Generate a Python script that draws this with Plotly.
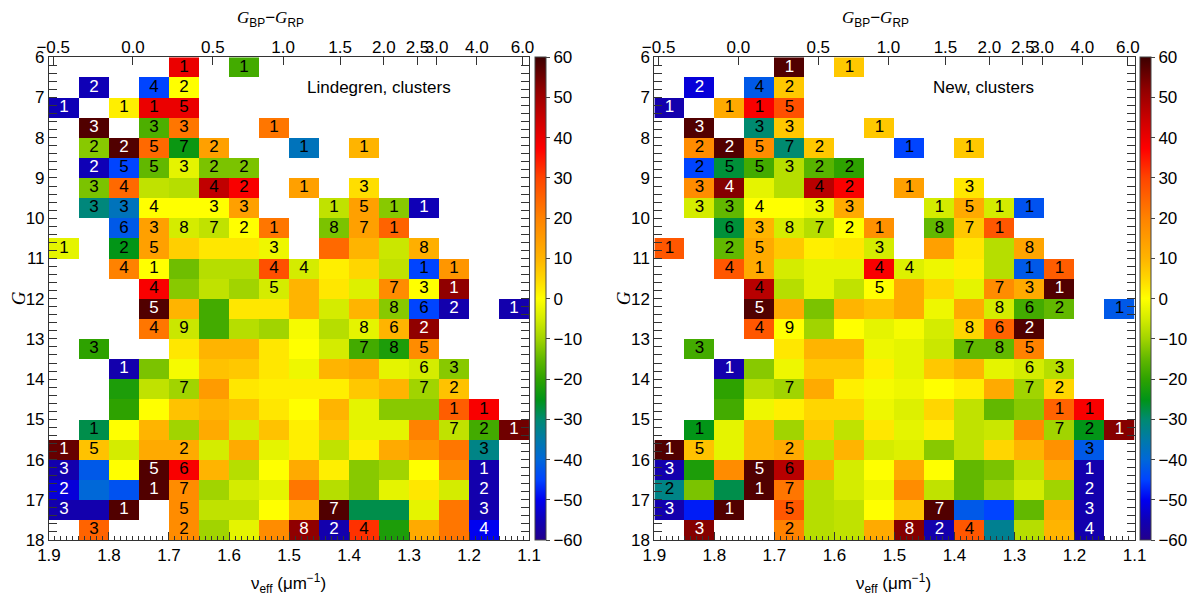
import plotly.graph_objects as go

# ---------------- data ----------------
# bin centres: nu_eff (um^-1), 16 columns from 1.875 down to 1.125; G magnitude, 24 rows 6.25 .. 17.75
nu_centers = [1.875, 1.825, 1.775, 1.725, 1.675, 1.625, 1.575, 1.525,
              1.475, 1.425, 1.375, 1.325, 1.275, 1.225, 1.175, 1.125]
g_centers = [6.25, 6.75, 7.25, 7.75, 8.25, 8.75, 9.25, 9.75, 10.25, 10.75, 11.25, 11.75,
             12.25, 12.75, 13.25, 13.75, 14.25, 14.75, 15.25, 15.75, 16.25, 16.75, 17.25, 17.75]

_ = None
# mean parallax offsets (colour-coded), Lindegren et al. correction, clusters
lind_values = [
    [_, _, _, _, 40, _, -18, _, _, _, _, _, _, _, _, _],
    [_, -55, _, -45, 0, _, _, _, _, _, _, _, _, _, _, _],
    [-55, _, 2, 40, 40, _, _, _, _, _, _, _, _, _, _, _],
    [_, 58, _, -17, 22, _, _, 22, _, _, _, _, _, _, _, _],
    [_, -12, 58, 24, -24, 14, _, _, -37, _, 10, _, _, _, _, _],
    [_, -55, -45, -15, -3, -13, -13, _, _, _, _, _, _, _, _, _],
    [_, -13, 24, -7, -8, 46, 38, _, 14, _, 4, _, _, _, _, _],
    [_, -31, -37, 0, 0, 0, 14, _, _, -7, 14, -12, -55, _, _, _],
    [_, _, -42, 14, -5, -7, 0, 22, _, -13, 14, 25, _, _, _, _],
    [-3, _, -25, 14, 6, 3, 3, -2, _, 24, 10, -6, 11, _, _, _],
    [_, _, 20, 0, -14, -8, -8, 28, -5, 2, 5, -7, -45, 16, _, _],
    [_, _, _, 38, -12, -7, -10, -5, 10, 3, -4, 18, 0, 52, _, _],
    [_, _, _, 58, 10, -18, 3, 3, 10, -5, 10, -12, -45, -56, _, -56],
    [_, _, _, 22, -6, -18, -8, -10, -1, -8, -3, 10, 52, _, _, _],
    [_, -20, _, _, 3, 10, 10, 3, 0, -5, -18, -22, 18, _, _, _],
    [_, _, -56, -13, -1, 8, 7, 3, -2, 10, 12, -3, -5, -12, _, _],
    [_, _, -22, -7, -10, 15, 3, 2, 2, 2, 7, 10, -10, 8, _, _],
    [_, _, -20, 0, 8, 10, 8, 3, 0, 10, -3, -12, -12, 26, 38, _],
    [_, -28, 0, 10, -10, 12, -5, 8, 2, 8, -3, -3, 20, -7, -18, 55],
    [56, 8, -5, 12, 12, -5, 12, -3, 2, -7, 2, 12, 16, 22, -32, _],
    [-56, -42, 0, 58, 38, 10, -8, 0, 12, 2, -12, -10, 0, 18, -56, _],
    [-52, -40, -43, 58, 18, -10, -5, -3, 22, -8, -12, -3, 3, -5, -56, _],
    [-56, -56, 58, _, 18, -7, -7, 0, 10, 58, -28, -28, -3, 22, -56, _],
    [_, 25, _, _, 18, -10, -3, 18, 52, -56, 32, -22, 12, 22, -50, _],
]

# mean parallax offsets, new correction, clusters
new_values = [
    [_, _, _, _, 58, _, 7, _, _, _, _, _, _, _, _, _],
    [_, -52, _, -42, 7, _, _, _, _, _, _, _, _, _, _, _],
    [-56, _, 12, 38, 28, _, _, _, _, _, _, _, _, _, _, _],
    [_, 58, _, -30, 7, _, _, 7, _, _, _, _, _, _, _, _],
    [_, 18, 58, 18, -30, 7, _, _, -45, _, 7, _, _, _, _, _],
    [_, -45, -27, -18, -8, -16, -20, _, _, _, _, _, _, _, _, _],
    [_, 18, 53, -3, -8, 47, 38, _, 14, _, 3, _, _, _, _, _],
    [_, -5, -15, 0, 0, -2, 12, _, _, -5, 12, -5, -43, _, _, _],
    [_, _, -27, 10, -5, -8, 0, 17, _, -15, 7, 27, _, _, _, _],
    [27, _, -15, 12, 7, 2, 3, -5, _, 14, 3, -8, 13, _, _, _],
    [_, _, 27, 12, -5, -3, -3, 38, -4, -2, 2, -8, -42, 26, _, _],
    [_, _, _, 47, -8, -3, -7, 0, 12, 5, -3, 18, 12, 58, _, _],
    [_, _, _, 58, 12, -13, 10, 8, 12, -2, 12, -5, -18, -15, _, -42],
    [_, _, _, 27, 0, -10, 0, -3, -1, -5, 5, 25, 58, _, _, _],
    [_, -18, _, _, 3, 10, 10, -2, -3, -6, -15, -15, 20, _, _, _],
    [_, _, -56, -12, -2, 7, 7, 2, -3, 7, 10, -3, -5, -8, _, _],
    [_, _, -20, -8, -10, 12, 2, -1, -2, 0, 2, 12, -10, 5, _, _],
    [_, _, -18, -2, 2, 5, 5, -2, -4, 5, -7, -15, -12, 25, 38, _],
    [_, -25, -3, 10, -10, 7, -7, 3, -3, 2, -7, -6, 18, -10, -25, 53],
    [58, 8, -3, 10, 12, -7, 10, -5, -4, -12, -7, 5, 10, 17, -42, _],
    [-56, -22, 18, 58, 47, 12, -5, 0, 12, 0, -15, -13, -7, 12, -56, _],
    [-32, -13, -28, 58, 22, -8, -5, -2, 18, -7, -15, -10, -5, -10, -56, _],
    [-56, -48, 58, _, 27, -8, -7, 0, 8, 58, -42, -45, -15, 12, -56, _],
    [_, 53, _, _, 20, -8, -7, 12, 53, -56, 27, -33, -8, 10, -56, _],
]

# number of clusters in each cell (same in both panels)
cluster_counts = [
    [_, _, _, _, 1, _, 1, _, _, _, _, _, _, _, _, _],
    [_, 2, _, 4, 2, _, _, _, _, _, _, _, _, _, _, _],
    [1, _, 1, 1, 5, _, _, _, _, _, _, _, _, _, _, _],
    [_, 3, _, 3, 3, _, _, 1, _, _, _, _, _, _, _, _],
    [_, 2, 2, 5, 7, 2, _, _, 1, _, 1, _, _, _, _, _],
    [_, 2, 5, 5, 3, 2, 2, _, _, _, _, _, _, _, _, _],
    [_, 3, 4, _, _, 4, 2, _, 1, _, 3, _, _, _, _, _],
    [_, 3, 3, 4, _, 3, 3, _, _, 1, 5, 1, 1, _, _, _],
    [_, _, 6, 3, 8, 7, 2, 1, _, 8, 7, 1, _, _, _, _],
    [1, _, 2, 5, _, _, _, 3, _, _, _, _, 8, _, _, _],
    [_, _, 4, 1, _, _, _, 4, 4, _, _, _, 1, 1, _, _],
    [_, _, _, 4, _, _, _, 5, _, _, _, 7, 3, 1, _, _],
    [_, _, _, 5, _, _, _, _, _, _, _, 8, 6, 2, _, 1],
    [_, _, _, 4, 9, _, _, _, _, _, 8, 6, 2, _, _, _],
    [_, 3, _, _, _, _, _, _, _, _, 7, 8, 5, _, _, _],
    [_, _, 1, _, _, _, _, _, _, _, _, _, 6, 3, _, _],
    [_, _, _, _, 7, _, _, _, _, _, _, _, 7, 2, _, _],
    [_, _, _, _, _, _, _, _, _, _, _, _, _, 1, 1, _],
    [_, 1, _, _, _, _, _, _, _, _, _, _, _, 7, 2, 1],
    [1, 5, _, _, 2, _, _, _, _, _, _, _, _, _, 3, _],
    [3, _, _, 5, 6, _, _, _, _, _, _, _, _, _, 1, _],
    [2, _, _, 1, 7, _, _, _, _, _, _, _, _, _, 2, _],
    [3, _, 1, _, 5, _, _, _, _, 7, _, _, _, _, 3, _],
    [_, 3, _, _, 2, _, _, _, 8, 2, 4, _, _, _, 4, _],
]

bottom_tick_labels = ["1.9", "1.8", "1.7", "1.6", "1.5", "1.4", "1.3", "1.2", "1.1"]
bottom_tick_values = [1.9, 1.8, 1.7, 1.6, 1.5, 1.4, 1.3, 1.2, 1.1]
color_tick_labels = ["\u22120.5", "0.0", "0.5", "1.0", "1.5", "2.0", "2.5", "3.0", "4.0", "6.0"]
color_tick_nu = [1.893, 1.760, 1.627, 1.510, 1.415, 1.342, 1.286, 1.254, 1.187, 1.111]
g_tick_values = list(range(6, 19))

panel_labels = ["Lindegren, clusters", "New, clusters"]

# ---------------- style / geometry ----------------
OFF = 8                                   # page body margin of the browser
W, H = 1200 - OFF, 602 - OFF
ML, MR, MT, MB = 36, 55, 40, 50           # fixed margins (px)
PW, PH = W - ML - MR, H - MT - MB
FONT = "Liberation Sans"


def fx(px):
    # screen pixel (reference image) -> paper fraction
    return (px - OFF - ML) / PW


def fy(py):
    return 1 - (py - OFF - MT) / PH


colorscale = [
    [0.000, "#23008c"], [0.040, "#1000b4"], [0.083, "#0000f0"], [0.125, "#0044ff"],
    [0.167, "#0068d8"], [0.208, "#007aa8"], [0.250, "#008a70"], [0.290, "#009418"],
    [0.333, "#2ea200"], [0.375, "#62b800"], [0.417, "#a2d400"], [0.458, "#d4ec00"],
    [0.500, "#ffff00"], [0.542, "#ffd600"], [0.583, "#ffb400"], [0.667, "#ff8200"],
    [0.750, "#ff4400"], [0.810, "#ff0000"], [0.875, "#c80000"], [0.933, "#900000"],
    [1.000, "#3c0000"],
]

plot_top, plot_bot = 57.3, 540.0
ydom = [max(0.0, fy(plot_bot)), min(1.0, fy(plot_top))]
panels_x = [(49.0, 532.2), (658.3, 1141.5)]

fig = go.Figure()


def text_trace(values, xa, ya):
    xs, ys, ts, cs = [], [], [], []
    for r, row in enumerate(cluster_counts):
        for c, n in enumerate(row):
            if n is None:
                continue
            v = values[r][c]
            xs.append(nu_centers[c])
            ys.append(g_centers[r])
            ts.append(str(n))
            cs.append("white" if (v >= 50 or v <= -48) else "black")
    return go.Scatter(x=xs, y=ys, text=ts, mode="text", xaxis=xa, yaxis=ya,
                      textfont=dict(family=FONT, size=17, color=cs),
                      textposition="middle center", hoverinfo="skip", showlegend=False)


for i, vals in enumerate([lind_values, new_values]):
    x0, x1 = panels_x[i]
    xa = "x" if i == 0 else "x2"
    ta = "x3" if i == 0 else "x4"
    ya = "y" if i == 0 else "y2"
    fig.add_trace(go.Heatmap(
        x=nu_centers, y=g_centers, z=vals, xaxis=xa, yaxis=ya,
        colorscale=colorscale, zmin=-60, zmax=60, hoverongaps=False,
        colorbar=dict(
            x=fx(x1 + 5.5), xanchor="left", y=(ydom[0] + ydom[1]) / 2, yanchor="middle",
            len=ydom[1] - ydom[0], thickness=11, xpad=0, ypad=0,
            outlinewidth=1, outlinecolor="#444",
            tickmode="linear", tick0=-60, dtick=10, ticks="outside", ticklen=4,
            tickcolor="#444", tickfont=dict(family=FONT, size=17, color="black"),
        ),
    ))
    # counts drawn through the top (colour) axis, which shares the bottom axis range
    fig.add_trace(text_trace(vals, ta, ya))

axis_common = dict(showgrid=False, zeroline=False, showline=True, linecolor="#333",
                   linewidth=1, ticks="inside", ticklen=8, tickcolor="#333", tickangle=0,
                   tickfont=dict(family=FONT, size=17, color="black"))

layout = dict(
    width=W, height=H, autosize=False, margin=dict(l=ML, r=MR, t=MT, b=MB, pad=0),
    paper_bgcolor="white", plot_bgcolor="white", showlegend=False,
    font=dict(family=FONT, size=17, color="black"),
)

for i in range(2):
    x0, x1 = panels_x[i]
    xd = [max(0.0, fx(x0)), min(1.0, fx(x1))]
    xn = "xaxis" if i == 0 else "xaxis2"
    yn = "yaxis" if i == 0 else "yaxis2"
    tn = "xaxis3" if i == 0 else "xaxis4"
    xid = "x" if i == 0 else "x2"
    yid = "y" if i == 0 else "y2"
    layout[xn] = dict(axis_common, domain=xd, anchor=yid, range=[1.9, 1.1],
                      tickmode="array", tickvals=bottom_tick_values, ticktext=bottom_tick_labels,
                      mirror=True,
                      minor=dict(tickmode="linear", tick0=1.1, dtick=0.01, ticks="inside",
                                 ticklen=4, tickcolor="#333"))
    layout[yn] = dict(axis_common, domain=ydom, anchor=xid, range=[18, 6],
                      tickmode="array", tickvals=g_tick_values,
                      ticktext=[str(v) for v in g_tick_values], mirror="allticks",
                      minor=dict(tickmode="linear", tick0=6, dtick=0.2, ticks="inside",
                                 ticklen=4, tickcolor="#333"))
    layout[tn] = dict(axis_common, overlaying=xid, anchor=yid, side="top", range=[1.9, 1.1],
                      tickmode="array", tickvals=color_tick_nu, ticktext=color_tick_labels,
                      showline=False)

anns = []
for i in range(2):
    off = 0 if i == 0 else 609.3
    anns.append(dict(text=panel_labels[i], x=fx(381) if i == 0 else fx(990),
                     y=fy(88), xref="paper", yref="paper", showarrow=False,
                     xanchor="center", yanchor="middle", font=dict(family=FONT, size=17)))
    anns.append(dict(text='<span style="font-family:Liberation Serif"><i>G</i></span><sub>BP</sub>'
                          '\u2212<span style="font-family:Liberation Serif"><i>G</i></span><sub>RP</sub>',
                     x=fx(272 + off), y=fy(19), xref="paper", yref="paper", showarrow=False,
                     xanchor="center", yanchor="middle", font=dict(family=FONT, size=17)))
    anns.append(dict(text="\u03bd<sub>eff</sub> (\u03bcm<sup>\u22121</sup>)",
                     x=fx(290 + off), y=fy(583), xref="paper", yref="paper", showarrow=False,
                     xanchor="center", yanchor="middle", font=dict(family=FONT, size=17)))
    anns.append(dict(text="<i>G</i>", x=fx(18 if i == 0 else 627), y=fy(298),
                     xref="paper", yref="paper", showarrow=False, textangle=-90,
                     xanchor="center", yanchor="middle",
                     font=dict(family="Liberation Serif", size=19)))
layout["annotations"] = anns

fig.update_layout(**layout)
fig.write_html("out.html")
